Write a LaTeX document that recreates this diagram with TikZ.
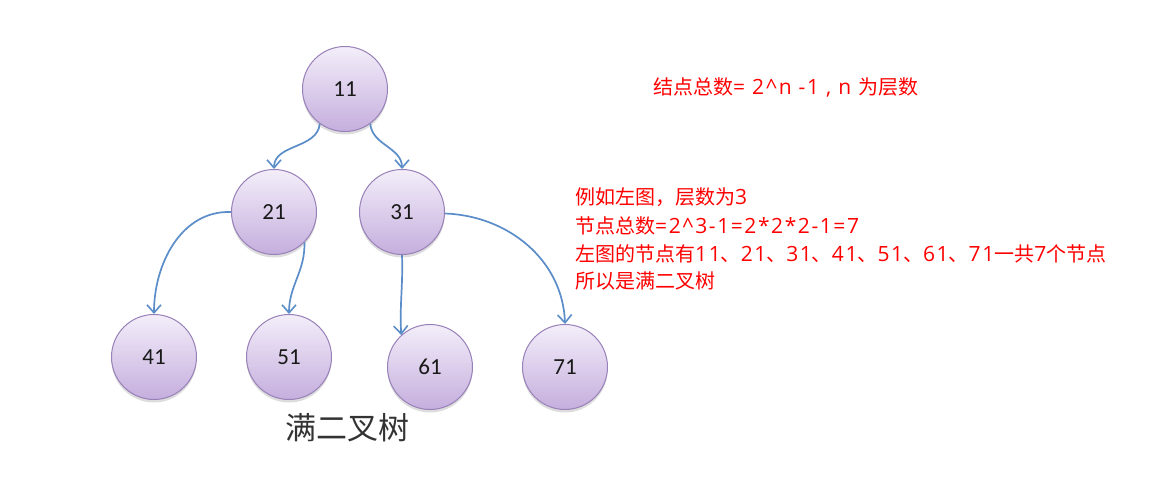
\documentclass[tikz,border=0pt]{standalone}
\usepackage{fontspec}
\setmainfont{Carlito}
\newfontfamily\cjk{Noto Sans CJK SC}
\newfontfamily\lat[Scale=1.05,LetterSpace=7.5]{Open Sans}
\newcommand{\la}[1]{{\lat #1}}
\usetikzlibrary{arrows.meta,shadows}
\definecolor{nodetop}{HTML}{F3EEFA}
\definecolor{nodebot}{HTML}{C5AEDD}
\definecolor{nodeborder}{HTML}{9880B8}
\definecolor{arrowblue}{HTML}{5B8DC8}
\definecolor{captiongray}{HTML}{333333}
\begin{document}
\begin{tikzpicture}[x=1pt,y=1pt,
  tn/.style={circle, minimum size=85pt, inner sep=0pt, draw=nodeborder, line width=1pt,
    top color=nodetop, bottom color=nodebot,
    drop shadow={shadow xshift=0pt, shadow yshift=-3pt, opacity=0.22, fill=black!60},
    font=\fontsize{23}{26}\selectfont, text=black!90},
  edge/.style={draw=arrowblue, line width=1.7pt, -{Straight Barb[length=8pt,width=14pt,line width=1.6pt]}},
  redtxt/.style={anchor=base west, inner sep=0pt, text=red, font=\cjk\fontsize{20}{24}\selectfont},
]
\useasboundingbox[fill=white] (0,0) rectangle (1171,-485);

\node[tn] (n11) at (345,-89) {11};
\node[tn] (n21) at (274,-212) {21};
\node[tn] (n31) at (402,-212) {31};
\node[tn] (n41) at (154,-357) {41};
\node[tn] (n51) at (289,-357) {51};
\node[tn] (n61) at (430,-367) {61};
\node[tn] (n71) at (565,-367) {71};

\draw[edge] (n11.234) to[out=-95,in=90] (n21.north);
\draw[edge] (n11.-54) to[out=-85,in=90] (n31.north);
\draw[edge] (n21.180) to[out=178,in=90] (n41.north);
\draw[edge] (n21.-45) to[out=-88,in=90] (n51.north);
\draw[edge] (n31.south) to[out=-88,in=93] (n61.132);
\draw[edge] (n31.-2) to[out=-2,in=92] (n71.north);

\node[anchor=center, inner sep=0pt, text=captiongray, font=\cjk\fontsize{31}{36}\selectfont] (cap) at (347,-428) {满二叉树};

\node[redtxt] (f1) at (653,-94.5) {结点总数\la{= 2\^{}n -1 , n }为层数};
\node[redtxt] (t1) at (575,-204.5) {例如左图，层数为\la{3}};
\node[redtxt] (t2) at (575,-233.5) {节点总数\la{=2\^{}3-1=2*2*2-1=7}};
\node[redtxt] (t3) at (575,-261.5) {左图的节点有\la{11}、\la{21}、\la{31}、\la{41}、\la{51}、\la{61}、\la{71}一共\la{7}个节点};
\node[redtxt] (t4) at (575,-288.5) {所以是满二叉树};
\end{tikzpicture}
\end{document}
